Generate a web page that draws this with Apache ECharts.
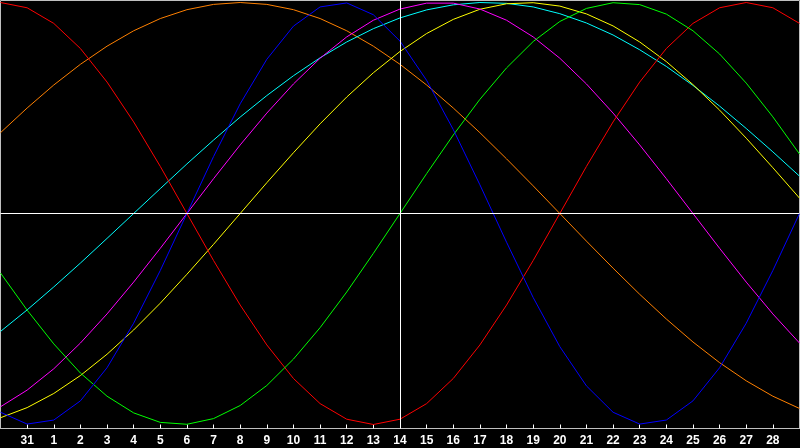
<!DOCTYPE html>
<html>
<head>
<meta charset="utf-8">
<script src="https://cdn.jsdelivr.net/npm/echarts@6/dist/echarts.min.js"></script>
<style>
html,body{margin:0;padding:0;background:#000;}
#chart{width:800px;height:448px;}
</style>
</head>
<body>
<div id="chart"></div>
<script>
// Day tick labels (first and last sit on the frame and are not shown)
const dayLabels = ['30','31','1','2','3','4','5','6','7','8','9','10','11','12','13','14','15','16','17','18','19','20','21','22','23','24','25','26','27','28','1'];

const redValues     = [1.000,0.975,0.901,0.782,0.623,0.434,0.223,0,-0.223,-0.434,-0.623,-0.782,-0.901,-0.975,-1.000,-0.975,-0.901,-0.782,-0.623,-0.434,-0.223,0,0.223,0.434,0.623,0.782,0.901,0.975,1.000,0.975,0.901];
const greenValues   = [-0.282,-0.458,-0.618,-0.756,-0.866,-0.945,-0.990,-0.999,-0.972,-0.910,-0.815,-0.690,-0.541,-0.372,-0.189,0,0.189,0.372,0.541,0.690,0.815,0.910,0.972,0.999,0.990,0.945,0.866,0.756,0.618,0.458,0.282];
const blueValues    = [-0.942,-0.998,-0.979,-0.888,-0.731,-0.520,-0.270,0,0.270,0.520,0.731,0.888,0.979,0.998,0.942,0.817,0.631,0.398,0.136,-0.136,-0.398,-0.631,-0.817,-0.942,-0.998,-0.979,-0.888,-0.731,-0.520,-0.270,0];
const orangeValues  = [0.383,0.500,0.609,0.707,0.793,0.866,0.924,0.966,0.991,1.000,0.991,0.966,0.924,0.866,0.793,0.707,0.609,0.500,0.383,0.259,0.131,0,-0.131,-0.259,-0.383,-0.500,-0.609,-0.707,-0.793,-0.866,-0.924];
const magentaValues = [-0.916,-0.837,-0.736,-0.614,-0.476,-0.325,-0.165,0,0.165,0.325,0.476,0.614,0.736,0.837,0.916,0.969,0.997,0.997,0.969,0.916,0.837,0.736,0.614,0.476,0.325,0.165,0,-0.165,-0.325,-0.476,-0.614];
const cyanValues    = [-0.559,-0.457,-0.348,-0.235,-0.118,0,0.118,0.235,0.348,0.457,0.559,0.653,0.738,0.813,0.876,0.927,0.965,0.989,1.000,0.996,0.979,0.947,0.903,0.846,0.776,0.697,0.607,0.509,0.403,0.292,0.177];
const yellowValues  = [-0.968,-0.920,-0.853,-0.768,-0.667,-0.552,-0.425,-0.288,-0.146,0,0.146,0.288,0.425,0.552,0.667,0.768,0.853,0.920,0.968,0.994,0.999,0.983,0.946,0.889,0.813,0.720,0.611,0.490,0.357,0.217,0.073];

const todayLabel = '14';

const curves = [
  {color:'#ff8000', data:orangeValues},
  {color:'#00ffff', data:cyanValues},
  {color:'#ffff00', data:yellowValues},
  {color:'#ff00ff', data:magentaValues},
  {color:'#ff0000', data:redValues},
  {color:'#00ff00', data:greenValues},
  {color:'#0000ff', data:blueValues}
];

const chart = echarts.init(document.getElementById('chart'));
const shown = (i) => i > 0 && i < dayLabels.length - 1;

chart.setOption({
  backgroundColor:'#000',
  animation:false,
  grid:{left:0.5, right:0.5, top:0.5, height:428, show:true, borderColor:'#c0c0c0', borderWidth:1},
  xAxis:{
    type:'category', data:dayLabels, boundaryGap:false,
    axisLine:{show:true, onZero:false, lineStyle:{color:'#c0c0c0', width:1}},
    axisTick:{show:true, inside:true, length:4, interval:shown, lineStyle:{color:'#ffffff', width:1}},
    axisLabel:{show:true, interval:shown, color:'#ffffff', fontWeight:'bold', fontSize:12,
               fontFamily:'"Liberation Sans", Arial, sans-serif', margin:6},
    splitLine:{show:false}
  },
  yAxis:{type:'value', min:-1.019, max:1.0095, show:false, splitLine:{show:false}},
  series:[
    {
      type:'line', data:[], silent:true, z:1,
      markLine:{
        silent:true, symbol:['none','none'], animation:false,
        label:{show:false},
        lineStyle:{color:'#ffffff', width:1, type:'solid'},
        emphasis:{disabled:true},
        data:[{xAxis:todayLabel},{yAxis:0}]
      }
    }
  ].concat(curves.map(c => ({
    type:'line', data:c.data, z:2, silent:true,
    symbol:'none', showSymbol:false, smooth:false,
    lineStyle:{color:c.color, width:1},
    itemStyle:{color:c.color},
    emphasis:{disabled:true}
  })))
});
</script>
</body>
</html>
